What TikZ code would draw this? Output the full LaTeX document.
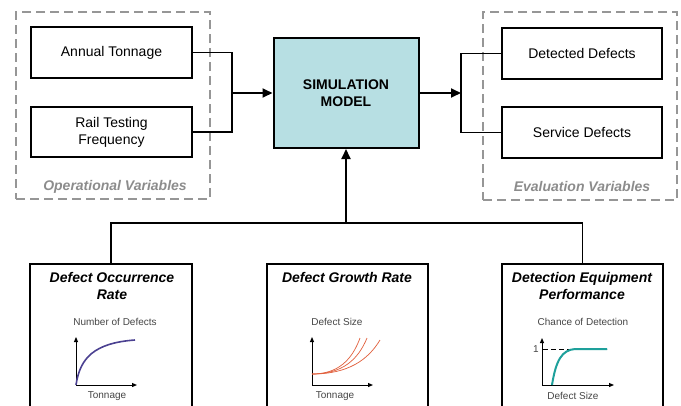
\documentclass[tikz,border=0pt]{standalone}
\usepackage{fontspec}
\setmainfont{Liberation Sans}
\usetikzlibrary{arrows.meta}
\definecolor{simfill}{RGB}{183,223,227}
\definecolor{dashgray}{RGB}{150,150,150}
\definecolor{labgray}{RGB}{140,140,140}
\definecolor{axgray}{RGB}{70,70,70}
\definecolor{occcol}{RGB}{75,65,145}
\definecolor{growcol}{RGB}{225,95,60}
\definecolor{perfcol}{RGB}{30,160,155}
\tikzset{
  box/.style={draw=black, line width=2pt, fill=white, inner sep=0pt, align=center,
    font=\fontsize{14}{17}\selectfont},
  dashbox/.style={draw=dashgray, line width=1.8pt, dash pattern=on 9pt off 5pt, inner sep=0pt},
  conn/.style={draw=black, line width=1.8pt},
  arr/.style={conn, -{Triangle[length=10pt,width=9pt]}},
  varlabel/.style={text=labgray, font=\fontsize{14}{17}\selectfont\bfseries\itshape},
  title/.style={align=center, font=\fontsize{14}{17}\selectfont\bfseries\itshape},
  glabel/.style={text=axgray, font=\fontsize{10}{12}\selectfont},
  axis/.style={draw=black, line width=1pt, -{Triangle[length=5pt,width=4pt]}}
}
\begin{document}
\begin{tikzpicture}[x=1pt,y=-1pt]
\useasboundingbox (0,0) rectangle (681,405);
\clip (0,0) rectangle (681,405);
% dashed groups
\node[dashbox, minimum width=194pt, minimum height=187pt] (opv) at (113,105.5) {};
\node[dashbox, minimum width=194pt, minimum height=188pt] (evv) at (580,106) {};
\node[varlabel] (opvl) at (115,187) {Operational Variables};
\node[varlabel] (evvl) at (582,186) {Evaluation Variables};
% boxes
\node[box, minimum width=161pt, minimum height=51pt] (annual) at (111.5,52.5) {Annual Tonnage};
\node[box, minimum width=161pt, minimum height=50pt] (rail) at (111.5,132) {Rail Testing\\Frequency};
\node[box, fill=simfill, minimum width=145pt, minimum height=110pt, font=\fontsize{14}{17}\selectfont\bfseries] (sim) at (346,93) {SIMULATION\\MODEL};
\node[box, minimum width=160pt, minimum height=51pt] (det) at (582,53.5) {Detected Defects};
\node[box, minimum width=160pt, minimum height=51pt] (serv) at (582,132.5) {Service Defects};
% bottom boxes
\node[box, minimum width=162pt, minimum height=156pt] (occ) at (111,342) {};
\node[box, minimum width=161pt, minimum height=156pt] (growth) at (347.5,342) {};
\node[box, minimum width=161pt, minimum height=156pt] (perf) at (582.5,342) {};
% titles
\node[title] (occt) at (112,286) {Defect Occurrence\\Rate};
\node[title] (growt) at (347,277) {Defect Growth Rate};
\node[title] (perft) at (582,286) {Detection Equipment\\Performance};
% connectors left
\coordinate (jl) at (232,93);
\draw[conn] (annual.east) -| (jl);
\draw[conn] (rail.east) -| (jl);
\draw[arr] (jl) -- (sim.west);
% connectors right
\coordinate (jr) at (461,93);
\draw[arr] (sim.east) -- (jr);
\draw[conn] (det.west) -| (jr);
\draw[conn] (serv.west) -| (jr);
% bottom connectors
\coordinate (jb) at (346,223);
\draw[conn] (occ.north) |- (jb);
\draw[conn] (perf.north) |- (jb);
\draw[arr] (jb) -- (sim.south);
% graph 1
\coordinate (o1) at (76,385);
\coordinate (y1) at (76,337);
\coordinate (x1) at (137,385);
\draw[axis] (o1) -- (y1);
\draw[axis] (o1) -- (x1);
\draw[occcol, line width=1.6pt] (o1) .. controls (80,358) and (94,343) .. (135,340);
\node[glabel] (l1a) at (115,322) {Number of Defects};
\node[glabel] (l1b) at (107,396) {Tonnage};
% graph 2
\coordinate (o2) at (312,385);
\coordinate (y2) at (312,337);
\coordinate (x2) at (373,385);
\draw[axis] (o2) -- (y2);
\draw[axis] (o2) -- (x2);
\draw[growcol, line width=0.7pt] (312,374) .. controls (338,374) and (352,360) .. (360,338);
\draw[growcol, line width=0.7pt] (312,374) .. controls (342,374) and (358,360) .. (367,338);
\draw[growcol, line width=0.7pt] (312,374) .. controls (348,374) and (368,360) .. (380,340);
\node[glabel] (l2a) at (337,322) {Defect Size};
\node[glabel] (l2b) at (335,396) {Tonnage};
% graph 3
\coordinate (o3) at (542,385);
\coordinate (y3) at (542,338);
\coordinate (x3) at (614,385);
\draw[axis] (o3) -- (y3);
\draw[axis] (o3) -- (x3);
\draw[black, line width=1pt, dash pattern=on 5pt off 3pt] (543,349) -- (607,349);
\draw[perfcol, line width=2pt] (552,385) .. controls (556,360) and (562,350) .. (575,349) -- (607,349);
\node[glabel] (l3one) at (536,349) {1};
\node[glabel] (l3a) at (583,322) {Chance of Detection};
\node[glabel] (l3b) at (573,396) {Defect Size};
\end{tikzpicture}
\end{document}
